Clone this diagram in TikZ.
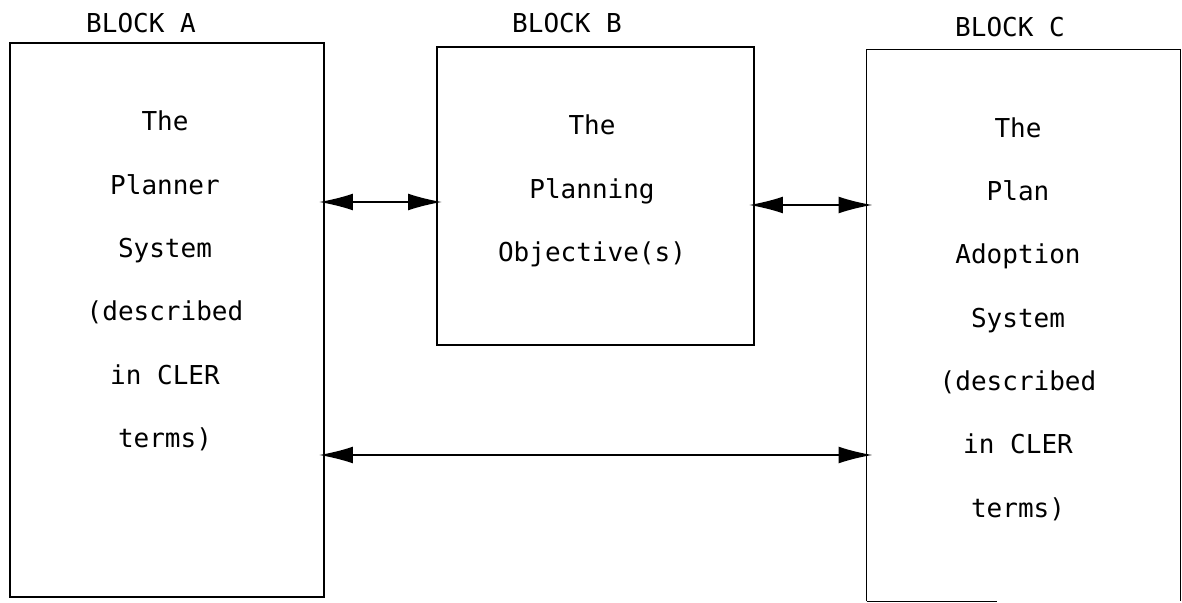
\documentclass[tikz,border=0pt]{standalone}
\usepackage{fontspec}
\setmonofont{DejaVu Sans Mono}
\usetikzlibrary{arrows.meta,positioning}
\begin{document}
\begin{tikzpicture}[x=0.025cm,y=-0.025cm]
% Styles
\tikzset{block/.style={draw,line width=1.1pt,inner sep=0pt},
  blocktext/.style={font=\ttfamily\fontsize{18.5}{45}\selectfont,align=center},
  blocklabel/.style={font=\ttfamily\fontsize{18.5}{22}\selectfont},
  twoway/.style={line width=1pt,shorten <=-4pt,shorten >=-4pt,
    {Latex[length=24pt,width=12pt]}-{Latex[length=24pt,width=12pt]}}}
\useasboundingbox (0,0) rectangle (1182,603);
% Draw the blocks
\node (A) [block,minimum width=7.85cm,minimum height=13.85cm] at (167,320) {};
\node (B) [block,minimum width=7.925cm,minimum height=7.45cm] at (595.5,196) {};
\node (C) [inner sep=0pt,minimum width=7.825cm,minimum height=13.775cm] at (1023.5,325.5) {};
\draw[line width=1.1pt] (C.south west) -- (C.north west) -- (C.north east) -- (C.south east);
\draw[line width=1.1pt] (C.south west) -- ++(130,0);
% the block names
\node (labA) at (141,23) [blocklabel] {BLOCK A};
\node (labB) at (567,23) [blocklabel] {BLOCK B};
\node (labC) at (1010,27) [blocklabel] {BLOCK C};
% the texts
\node (txtA) at (165,281) [blocktext] {The\\Planner\\System\\(described\\in CLER\\terms)};
\node (txtB) at (592,191) [blocktext] {The\\Planning\\Objective(s)};
\node (txtC) at (1018,319) [blocktext] {The\\Plan\\Adoption\\System\\(described\\in CLER\\terms)};
% Draw arrows
\coordinate (ab) at (0,202);
\coordinate (bc) at (0,205);
\coordinate (ac) at (0,455);
\draw[twoway] (A.east |- ab) -- (B.west |- ab);
\draw[twoway] (B.east |- bc) -- (C.west |- bc);
\draw[twoway] (A.east |- ac) -- (C.west |- ac);
\end{tikzpicture}
\end{document}
